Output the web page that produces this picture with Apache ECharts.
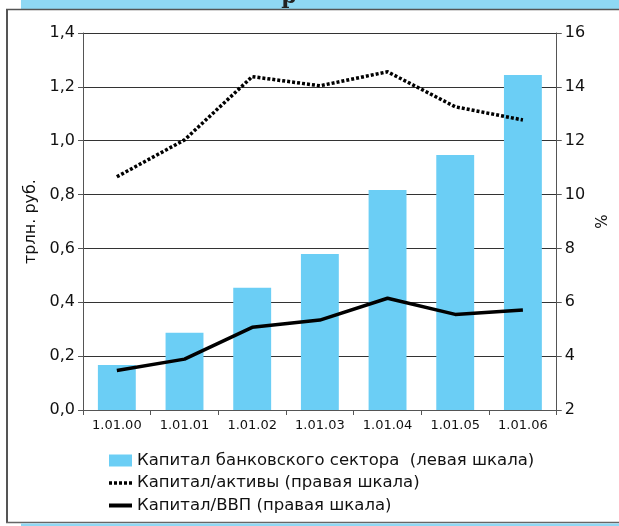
<!DOCTYPE html>
<html><head><meta charset="utf-8">
<script src="https://cdn.jsdelivr.net/npm/echarts@6/dist/echarts.min.js"></script>
<style>html,body{margin:0;padding:0;background:#fff}#c{width:619px;height:526px}</style>
</head><body><div id="c"></div>
<script>
const categories = ['1.01.00','1.01.01','1.01.02','1.01.03','1.01.04','1.01.05','1.01.06'];
const capital = [0.167, 0.287, 0.454, 0.579, 0.817, 0.947, 1.244];
const capitalToAssets = [10.66, 12.03, 14.38, 14.04, 14.56, 13.26, 12.77];
const capitalToGDP = [3.47, 3.89, 5.07, 5.34, 6.15, 5.55, 5.71];
const leftTicks = {min: 0, max: 1.4, interval: 0.2};
const rightTicks = {min: 2, max: 16, interval: 2};
const names = ['Капитал банковского сектора  (левая шкала)', 'Капитал/активы (правая шкала)', 'Капитал/ВВП (правая шкала)'];

const FONT = '"DejaVu Sans", Verdana, sans-serif';
const chart = echarts.init(document.getElementById('c'), null, {renderer: 'canvas'});
const axisCol = '#555';
chart.setOption({
  animation: false,
  textStyle: {fontFamily: FONT, color: '#111'},
  grid: {left: 83, right: 59, top: 33, bottom: 116, containLabel: false},
  xAxis: {
    type: 'category', data: categories, boundaryGap: true,
    axisLine: {lineStyle: {color: axisCol, width: 1}},
    axisTick: {show: true, length: 5, alignWithLabel: false, lineStyle: {color: axisCol}},
    axisLabel: {fontSize: 13, color: '#111', margin: 9, fontFamily: FONT}
  },
  yAxis: [{
    type: 'value', min: leftTicks.min, max: leftTicks.max, interval: leftTicks.interval,
    name: 'трлн. руб.', nameLocation: 'middle', nameGap: 37, nameRotate: 90,
    nameTextStyle: {fontSize: 16, color: '#111', fontFamily: FONT},
    axisLine: {show: true, lineStyle: {color: axisCol}},
    axisTick: {show: true, length: 5, lineStyle: {color: axisCol}},
    axisLabel: {fontSize: 16, color: '#111', margin: 8, fontFamily: FONT,
      formatter: v => v.toFixed(1).replace('.', ',')},
    splitLine: {show: true, lineStyle: {color: '#333', width: 1}}
  }, {
    type: 'value', position: 'right', min: rightTicks.min, max: rightTicks.max, interval: rightTicks.interval,
    name: '%', nameLocation: 'middle', nameGap: 38, nameRotate: 90,
    nameTextStyle: {fontSize: 15, color: '#111', fontFamily: FONT},
    axisLine: {show: true, lineStyle: {color: axisCol}},
    axisTick: {show: true, length: 5, lineStyle: {color: axisCol}},
    axisLabel: {fontSize: 16, color: '#111', margin: 8, fontFamily: FONT},
    splitLine: {show: false}
  }],
  legend: {
    orient: 'vertical', left: 102, top: 447, itemGap: 5.5, itemWidth: 23, itemHeight: 12,
    textStyle: {fontSize: 16.5, color: '#111', fontFamily: FONT},
    data: [
      {name: names[0], icon: 'rect'},
      {name: names[1], itemStyle: {opacity: 0}, lineStyle: {width: 3.5, type: [3, 2], color: '#000'}},
      {name: names[2], itemStyle: {opacity: 0}, lineStyle: {width: 4, color: '#000'}}
    ]
  },
  series: [{
    name: names[0], type: 'bar', data: capital, yAxisIndex: 0, barWidth: '56%',
    itemStyle: {color: '#6bcef5'}
  }, {
    name: names[1], type: 'line', data: capitalToAssets, yAxisIndex: 1, symbol: 'none',
    lineStyle: {color: '#000', width: 3.5, type: [3, 2]}, itemStyle: {color: '#000'}
  }, {
    name: names[2], type: 'line', data: capitalToGDP, yAxisIndex: 1, symbol: 'none',
    lineStyle: {color: '#000', width: 3.5}, itemStyle: {color: '#000'}
  }],
  graphic: [
    {type: 'rect', shape: {x: 21, y: 0, width: 598, height: 9}, style: {fill: '#8fd8f4'}, silent: true},
    {type: 'text', style: {x: 289, y: -14, text: 'р', font: 'bold 22px "DejaVu Serif", serif', fill: '#222', textAlign: 'center'}, silent: true},
    {type: 'line', shape: {x1: 6, y1: 9.5, x2: 619, y2: 9.5}, style: {stroke: '#555', lineWidth: 1.5}, silent: true},
    {type: 'line', shape: {x1: 7, y1: 9, x2: 7, y2: 523}, style: {stroke: '#555', lineWidth: 2}, silent: true},
    {type: 'line', shape: {x1: 6, y1: 522.5, x2: 619, y2: 522.5}, style: {stroke: '#666', lineWidth: 1.5}, silent: true},
    {type: 'rect', shape: {x: 21, y: 523.5, width: 598, height: 3}, style: {fill: '#8fd8f4'}, silent: true}
  ]
});
</script></body></html>
